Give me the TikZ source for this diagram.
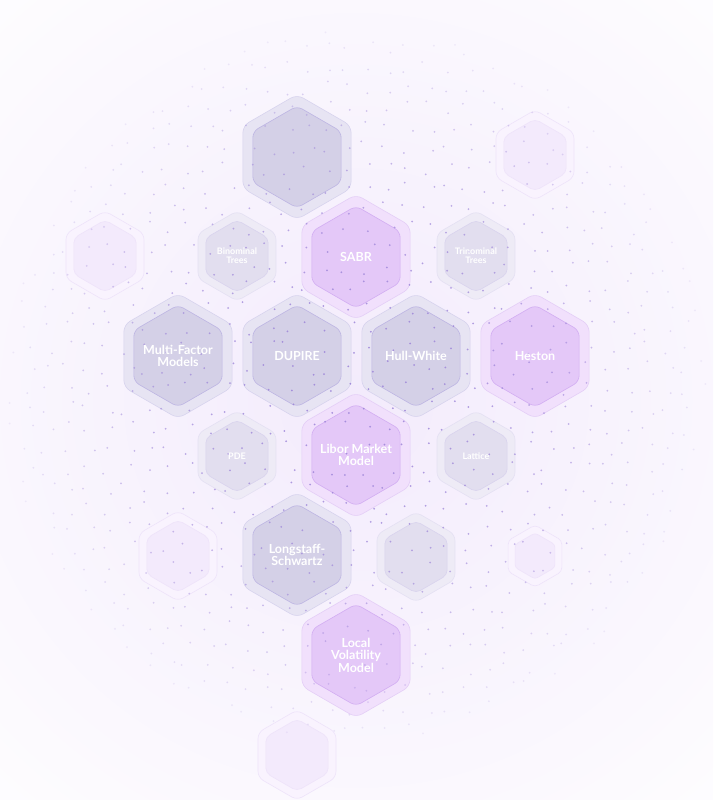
\documentclass[tikz,border=0pt]{standalone}
\usepackage{fontspec}
\setmainfont{Lato}
\usepackage{tikz}
\usetikzlibrary{shapes.geometric}
\definecolor{hexgrey}{HTML}{D4D0E7}
\definecolor{ringgrey}{HTML}{E7E4F3}
\definecolor{edgegrey}{HTML}{BDB5E3}
\definecolor{hexpurple}{HTML}{E4C8F8}
\definecolor{ringpurple}{HTML}{F1E0FC}
\definecolor{edgepurple}{HTML}{D2ADF2}
\definecolor{hexpale}{HTML}{E2DEEF}
\definecolor{ringpale}{HTML}{EEEBF6}
\definecolor{edgepale}{HTML}{D9D3EE}
\definecolor{hexghost}{HTML}{F3EAFC}
\definecolor{ringghost}{HTML}{F9F3FE}
\definecolor{edgeghost}{HTML}{EEE3FA}
\definecolor{dotpurple}{HTML}{9C84D8}
\definecolor{glow}{HTML}{F3EBFC}
\tikzset{
  hexshape/.style={regular polygon, regular polygon sides=6,
    shape border rotate=30, inner sep=0pt, outer sep=0pt, line width=0.6pt},
  bigring/.style={hexshape, minimum size=125pt, rounded corners=7pt},
  bigcell/.style={hexshape, minimum size=102pt, rounded corners=6pt},
  midring/.style={hexshape, minimum size=90pt, rounded corners=6pt},
  midcell/.style={hexshape, minimum size=72pt, rounded corners=5pt},
  smallring/.style={hexshape, minimum size=62pt, rounded corners=4pt},
  smallcell/.style={hexshape, minimum size=46pt, rounded corners=3pt},
  greyring/.style={draw=edgegrey!60, fill=ringgrey},
  greycell/.style={draw=edgegrey, fill=hexgrey},
  purplering/.style={draw=edgepurple!60, fill=ringpurple},
  purplecell/.style={draw=edgepurple, fill=hexpurple},
  palering/.style={draw=edgepale!70, fill=ringpale},
  palecell/.style={draw=edgepale, fill=hexpale},
  ghostring/.style={draw=edgeghost, fill=ringghost},
  ghostcell/.style={draw=edgeghost, fill=hexghost},
  biglabel/.style={align=center, text=white, inner sep=0pt,
    font=\bfseries\fontsize{12.5}{12.5}\selectfont},
  midlabel/.style={align=center, text=white, inner sep=0pt,
    font=\bfseries\fontsize{9}{9}\selectfont}
}

\begin{document}
\begin{tikzpicture}[x=1pt, y=-1pt]
  \useasboundingbox (0,0) rectangle (713,800);
  \clip (0,0) rectangle (713,800);
  % background glow
  \fill[white] (0,0) rectangle (713,800);
  \shade[inner color=glow, outer color=white] (356,400) circle (620);

  % faded cells around the edge
  \node[midring, ghostring] (tr-r) at (535,155) {};
  \node[midcell, ghostcell] (tr) at (tr-r) {};
  \node[midring, ghostring] (ml-r) at (105,256) {};
  \node[midcell, ghostcell] (ml) at (ml-r) {};
  \node[midring, ghostring] (bl-r) at (178,556) {};
  \node[midcell, ghostcell] (bl) at (bl-r) {};
  \node[midring, ghostring] (bot-r) at (297,755) {};
  \node[midcell, ghostcell] (bot) at (bot-r) {};
  \node[smallring, ghostring] (br-r) at (535,556) {};
  \node[smallcell, ghostcell] (br) at (br-r) {};

  % small method cells
  \node[midring, palering] (binom-r) at (237,256) {};
  \node[midcell, palecell] (binom) at (binom-r) {};
  \node[midring, palering] (trinom-r) at (476,256) {};
  \node[midcell, palecell] (trinom) at (trinom-r) {};
  \node[midring, palering] (pde-r) at (237,456) {};
  \node[midcell, palecell] (pde) at (pde-r) {};
  \node[midring, palering] (lattice-r) at (476,456) {};
  \node[midcell, palecell] (lattice) at (lattice-r) {};
  \node[midring, palering] (mid-r) at (416,557) {};
  \node[midcell, palecell] (mid) at (mid-r) {};

  % model cells
  \node[bigring, greyring] (top-r) at (297,157) {};
  \node[bigcell, greycell] (top) at (top-r) {};
  \node[bigring, purplering] (sabr-r) at (356,257) {};
  \node[bigcell, purplecell] (sabr) at (sabr-r) {};
  \node[bigring, greyring] (multi-r) at (178,356) {};
  \node[bigcell, greycell] (multi) at (multi-r) {};
  \node[bigring, greyring] (dupire-r) at (297,356) {};
  \node[bigcell, greycell] (dupire) at (dupire-r) {};
  \node[bigring, greyring] (hull-r) at (416,356) {};
  \node[bigcell, greycell] (hull) at (hull-r) {};
  \node[bigring, purplering] (heston-r) at (535,356) {};
  \node[bigcell, purplecell] (heston) at (heston-r) {};
  \node[bigring, purplering] (libor-r) at (356,455) {};
  \node[bigcell, purplecell] (libor) at (libor-r) {};
  \node[bigring, greyring] (lsm-r) at (297,555) {};
  \node[bigcell, greycell] (lsm) at (lsm-r) {};
  \node[bigring, purplering] (lvm-r) at (356,655) {};
  \node[bigcell, purplecell] (lvm) at (lvm-r) {};

  % dot cloud
  \pgfmathsetseed{17}
  \foreach \i in {0,...,35}{
    \foreach \j in {0,...,40}{
      \pgfmathsetmacro{\px}{8+\i*20+rand*7}
      \pgfmathsetmacro{\py}{8+\j*20+rand*7}
      \pgfmathsetmacro{\dd}{((\px-356)/350)^2+((\py-385)/355)^2}
      \ifdim\dd pt<1pt
        \pgfmathsetmacro{\op}{0.75*(1-\dd)+0.12}
        \fill[dotpurple, opacity=\op] (\px,\py) circle (1pt);
      \fi
    }
  }

  % labels
  \node[midlabel] (binom-t) at (binom) {Binominal\\Trees};
  \node[midlabel] (trinom-t) at (trinom) {Trinominal\\Trees};
  \node[midlabel] (pde-t) at (pde) {PDE};
  \node[midlabel] (lattice-t) at (lattice) {Lattice};
  \node[biglabel] (sabr-t) at (sabr) {SABR};
  \node[biglabel] (multi-t) at (multi) {Multi-Factor\\Models};
  \node[biglabel] (dupire-t) at (dupire) {DUPIRE};
  \node[biglabel] (hull-t) at (hull) {Hull-White};
  \node[biglabel] (heston-t) at (heston) {Heston};
  \node[biglabel] (libor-t) at (libor) {Libor Market\\Model};
  \node[biglabel] (lsm-t) at (lsm) {Longstaff-\\Schwartz};
  \node[biglabel] (lvm-t) at (lvm) {Local\\Volatility\\Model};
\end{tikzpicture}
\end{document}
